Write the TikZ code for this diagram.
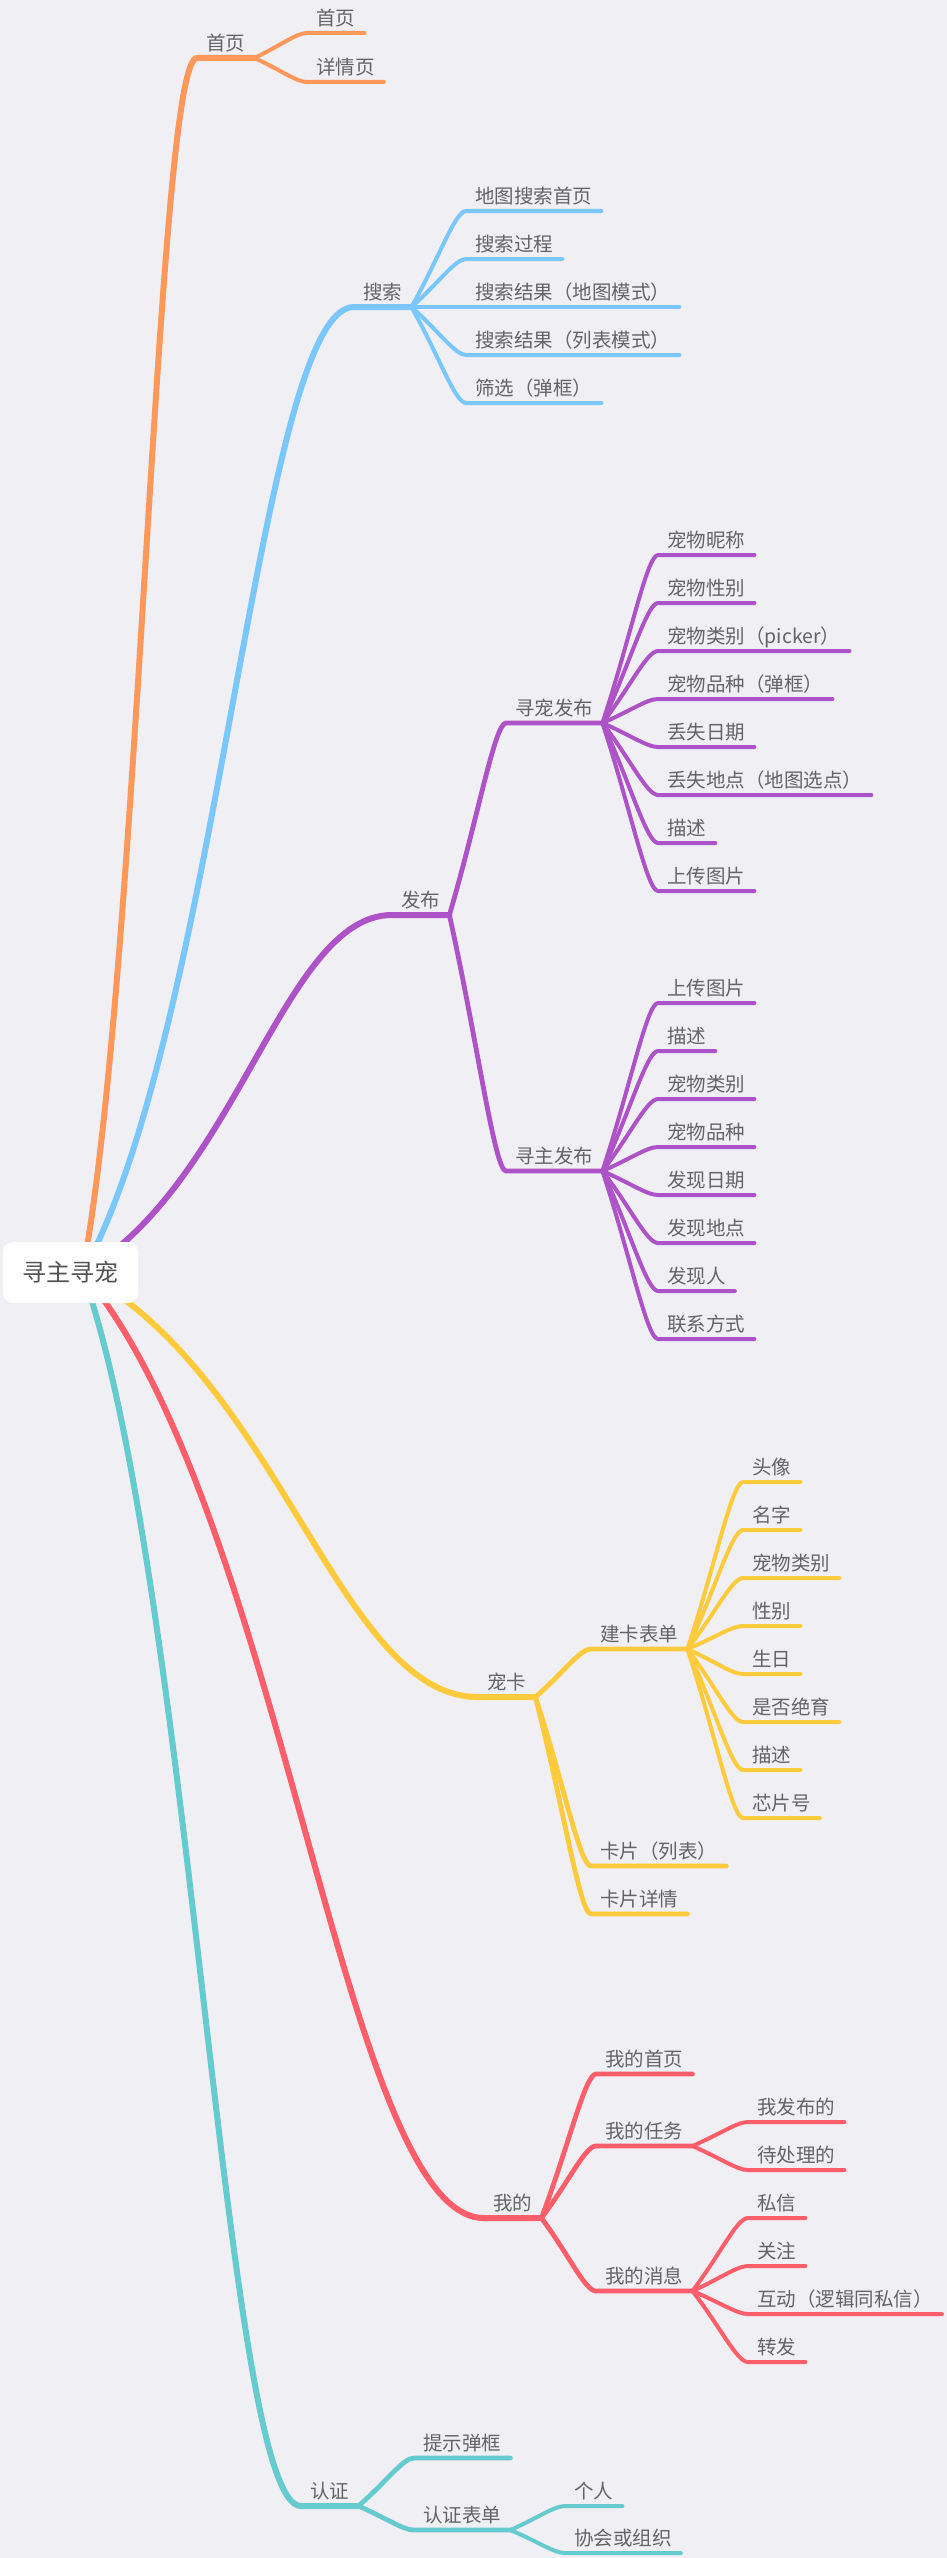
\documentclass[tikz,border=0pt]{standalone}
\usepackage{fontspec}
\setmainfont{Noto Sans CJK SC}
\usepackage{tikz}
\usetikzlibrary{calc, backgrounds}
\definecolor{bgc}{RGB}{239,239,244}
\definecolor{txtc}{RGB}{100,100,100}
\definecolor{orng}{RGB}{255,152,90}
\definecolor{blu}{RGB}{122,199,255}
\definecolor{purp}{RGB}{174,82,200}
\definecolor{ylw}{RGB}{255,203,61}
\definecolor{redc}{RGB}{255,94,106}
\definecolor{tealc}{RGB}{102,203,207}

\begin{document}
\begin{tikzpicture}[x=1pt, y=-1pt,
  lbl/.style={anchor=south west, font=\fontsize{19.5}{23}\selectfont, text=txtc, inner xsep=9pt, inner ysep=7pt, text depth=0pt},
  hub/.style={fill=white, rounded corners=10pt, minimum width=135pt, minimum height=61pt, font=\fontsize{24}{28}\selectfont, text=black!68},
  b1/.style={line width=6pt, line cap=round, line join=round},
  b2/.style={line width=4.8pt, line cap=round, line join=round},
  b3/.style={line width=4pt, line cap=round, line join=round},
  curvy/.style={to path={.. controls ($(\tikztostart)!0.5!(\tikztotarget)$) and ($(\tikztotarget)!0.2!(\tikztotarget -| \tikztostart)$) .. (\tikztotarget)}},
  hubcurve/.style={to path={let \p1=(\tikztostart), \p2=(\tikztotarget) in
    .. controls ({\x1+0.5*(\x2-\x1)},{\y1+0.25*(\y2-\y1)}) and ({\x2-0.35*(\x2-\x1)},\y2) .. (\tikztotarget)}}]

\useasboundingbox (0,0) rectangle (947,2558);

% x,y below are pixels of the sheet, y counted downwards

%% ── centre ───────────────────────────────────────────────────────
\node[hub] (root) at (70.5,1272.5) {寻主寻宠};

%% ── main topics ──────────────────────────────────────────────────
\node[lbl] (hm) at (197,58)   {首页};
\node[lbl] (ss) at (354,307)  {搜索};
\node[lbl] (fb) at (392,915)  {发布};
\node[lbl] (ck) at (478,1697) {宠卡};
\node[lbl] (wd) at (484,2218) {我的};
\node[lbl] (rz) at (301,2506) {认证};

%% ── 首页 / 搜索 ──────────────────────────────────────────────────
\node[lbl] (hm1) at (307,33) {首页};
\node[lbl] (hm2) at (307,82) {详情页};
\foreach \i/\y/\lab in {1/211/地图搜索首页, 2/259/搜索过程, 3/307/搜索结果（地图模式）, 4/355/搜索结果（列表模式）, 5/403/筛选（弹框）}
  \node[lbl] (ss\i) at (466,\y) {\lab};

%% ── 发布 ─────────────────────────────────────────────────────────
\node[lbl] (xc) at (506,723)  {寻宠发布};
\node[lbl] (xz) at (506,1171) {寻主发布};
\foreach \i/\y/\lab in {1/555/宠物昵称, 2/603/宠物性别, 3/651/宠物类别（picker）, 4/699/宠物品种（弹框）, 5/747/丢失日期, 6/795/丢失地点（地图选点）, 7/843/描述, 8/891/上传图片}
  \node[lbl] (xc\i) at (658,\y) {\lab};
\foreach \i/\y/\lab in {1/1003/上传图片, 2/1051/描述, 3/1099/宠物类别, 4/1147/宠物品种, 5/1195/发现日期, 6/1243/发现地点, 7/1291/发现人, 8/1339/联系方式}
  \node[lbl] (xz\i) at (658,\y) {\lab};

%% ── 宠卡 ─────────────────────────────────────────────────────────
\node[lbl] (jk) at (591,1649) {建卡表单};
\node[lbl] (kl) at (591,1866) {卡片（列表）};
\node[lbl] (kx) at (591,1914) {卡片详情};
\foreach \i/\y/\lab in {1/1482/头像, 2/1530/名字, 3/1578/宠物类别, 4/1626/性别, 5/1674/生日, 6/1722/是否绝育, 7/1770/描述, 8/1818/芯片号}
  \node[lbl] (jk\i) at (743,\y) {\lab};

%% ── 我的 ─────────────────────────────────────────────────────────
\node[lbl] (wsy) at (596,2074) {我的首页};
\node[lbl] (wrw) at (596,2146) {我的任务};
\node[lbl] (wxx) at (596,2291) {我的消息};
\node[lbl] (wrw1) at (748,2122) {我发布的};
\node[lbl] (wrw2) at (748,2170) {待处理的};
\foreach \i/\y/\lab in {1/2218/私信, 2/2266/关注, 3/2314/互动（逻辑同私信）, 4/2362/转发}
  \node[lbl] (wxx\i) at (748,\y) {\lab};

%% ── 认证 ─────────────────────────────────────────────────────────
\node[lbl] (ts) at (414,2458) {提示弹框};
\node[lbl] (rb) at (414,2530) {认证表单};
\node[lbl] (rb1) at (565,2506) {个人};
\node[lbl] (rb2) at (565,2553) {协会或组织};

%% ── branches (behind the centre box) ─────────────────────────────
\begin{scope}[on background layer]
  \fill[bgc] (0,0) rectangle (947,2558);

  \draw[b1, orng]  ([xshift=12pt]root.center) to[hubcurve] (hm.south west) -- (hm.south east);
  \draw[b1, blu]   ([xshift=12pt]root.center) to[hubcurve] (ss.south west) -- (ss.south east);
  \draw[b1, purp]  ([xshift=12pt]root.center) to[hubcurve] (fb.south west) -- (fb.south east);
  \draw[b1, ylw]   ([xshift=12pt]root.center) to[hubcurve] (ck.south west) -- (ck.south east);
  \draw[b1, redc]  ([xshift=12pt]root.center) to[hubcurve] (wd.south west) -- (wd.south east);
  \draw[b1, tealc] ([xshift=12pt]root.center) to[hubcurve] (rz.south west) -- (rz.south east);

  \foreach \n in {hm1,hm2}
    \draw[b3, orng] (hm.south east) to[curvy] (\n.south west) -- (\n.south east);
  \foreach \i in {1,...,5}
    \draw[b3, blu] (ss.south east) to[curvy] (ss\i.south west) -- (ss\i.south east);

  \foreach \n in {xc,xz}
    \draw[b2, purp] (fb.south east) to[curvy] (\n.south west) -- (\n.south east);
  \foreach \i in {1,...,8}{
    \draw[b3, purp] (xc.south east) to[curvy] (xc\i.south west) -- (xc\i.south east);
    \draw[b3, purp] (xz.south east) to[curvy] (xz\i.south west) -- (xz\i.south east);
  }

  \foreach \n in {jk,kl,kx}
    \draw[b2, ylw] (ck.south east) to[curvy] (\n.south west) -- (\n.south east);
  \foreach \i in {1,...,8}
    \draw[b3, ylw] (jk.south east) to[curvy] (jk\i.south west) -- (jk\i.south east);

  \foreach \n in {wsy,wrw,wxx}
    \draw[b2, redc] (wd.south east) to[curvy] (\n.south west) -- (\n.south east);
  \foreach \n in {wrw1,wrw2}
    \draw[b3, redc] (wrw.south east) to[curvy] (\n.south west) -- (\n.south east);
  \foreach \i in {1,...,4}
    \draw[b3, redc] (wxx.south east) to[curvy] (wxx\i.south west) -- (wxx\i.south east);

  \foreach \n in {ts,rb}
    \draw[b2, tealc] (rz.south east) to[curvy] (\n.south west) -- (\n.south east);
  \foreach \n in {rb1,rb2}
    \draw[b3, tealc] (rb.south east) to[curvy] (\n.south west) -- (\n.south east);
\end{scope}

\end{tikzpicture}
\end{document}
